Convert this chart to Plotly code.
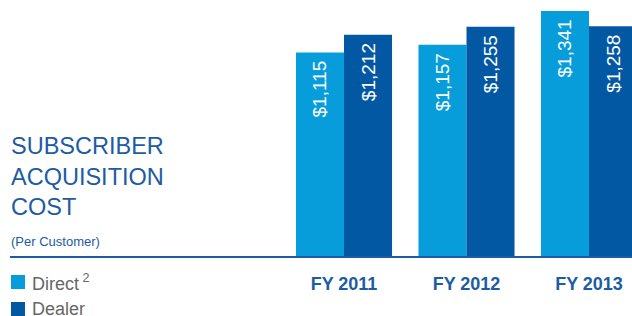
import plotly.graph_objects as go

categories = ["FY 2011", "FY 2012", "FY 2013"]
direct_values = [1115, 1157, 1341]
dealer_values = [1212, 1255, 1258]
series_names = ["Direct<sup> 2</sup>", "Dealer"]

DIRECT_COLOR = "#079ddb"
DEALER_COLOR = "#0358a3"
TEXT_BLUE = "#1c5ca3"

W, H = 632, 316
PLOT_BOTTOM = 257  # pixel y of baseline

def py(p):
    """pixel y -> paper y"""
    return (PLOT_BOTTOM - p) / PLOT_BOTTOM

fig = go.Figure()
colors = [DIRECT_COLOR, DEALER_COLOR]
for name, vals, col in zip(series_names, [direct_values, dealer_values], colors):
    fig.add_trace(go.Bar(
        x=categories, y=vals, name=name, marker=dict(color=col, line=dict(width=0)),
        texttemplate="$%{y:,}\u00a0", textposition="inside", insidetextanchor="end",
        textangle=-90, textfont=dict(color="white", size=19, family="Liberation Sans, Arial"),
        showlegend=False,
    ))

fig.update_layout(
    width=W, height=H,
    margin=dict(l=0, r=0, t=0, b=H - PLOT_BOTTOM, autoexpand=False),
    paper_bgcolor="white", plot_bgcolor="white",
    barmode="group", bargap=0.216, bargroupgap=0,
    xaxis=dict(range=[-344 / 122.5, (632 - 344) / 122.5], showgrid=False, zeroline=False,
               showline=False, ticks="", ticklabelstandoff=14,
               tickfont=dict(size=18, color=TEXT_BLUE, family="Liberation Sans, Arial", weight="bold")),
    yaxis=dict(range=[0, PLOT_BOTTOM / 0.1834], visible=False),
    font=dict(family="Liberation Sans, Arial"),
)

fig.add_shape(type="line", xref="paper", yref="paper", x0=10 / W, x1=1, y0=0, y1=0,
              line=dict(color=TEXT_BLUE, width=2))

# legend (swatches + labels)
for i, (name, col) in enumerate(zip(series_names, colors)):
    top = 275 + i * 27
    fig.add_shape(type="rect", xref="paper", yref="paper",
                  x0=11 / W, x1=25 / W, y0=py(top + 14), y1=py(top),
                  fillcolor=col, line=dict(width=0))
    fig.add_annotation(xref="paper", yref="paper", x=30 / W, y=py(top + 7),
                       xanchor="left", yanchor="middle", showarrow=False, text=name,
                       font=dict(size=18, color="#666666", family="Liberation Sans, Arial"))

fig.add_annotation(xref="paper", yref="paper", x=9 / W, y=py(131),
                   xanchor="left", yanchor="top", align="left", showarrow=False,
                   text="SUBSCRIBER<br>ACQUISITION<br>COST",
                   font=dict(size=23.5, color=TEXT_BLUE, family="Liberation Sans, Arial"))
fig.add_annotation(xref="paper", yref="paper", x=9 / W, y=py(232),
                   xanchor="left", yanchor="top", align="left", showarrow=False,
                   text="(Per Customer)",
                   font=dict(size=13, color=TEXT_BLUE, family="Liberation Sans, Arial"))

fig.write_html("out.html", config={"displayModeBar": False},
               post_script="document.body.style.margin='0';")
